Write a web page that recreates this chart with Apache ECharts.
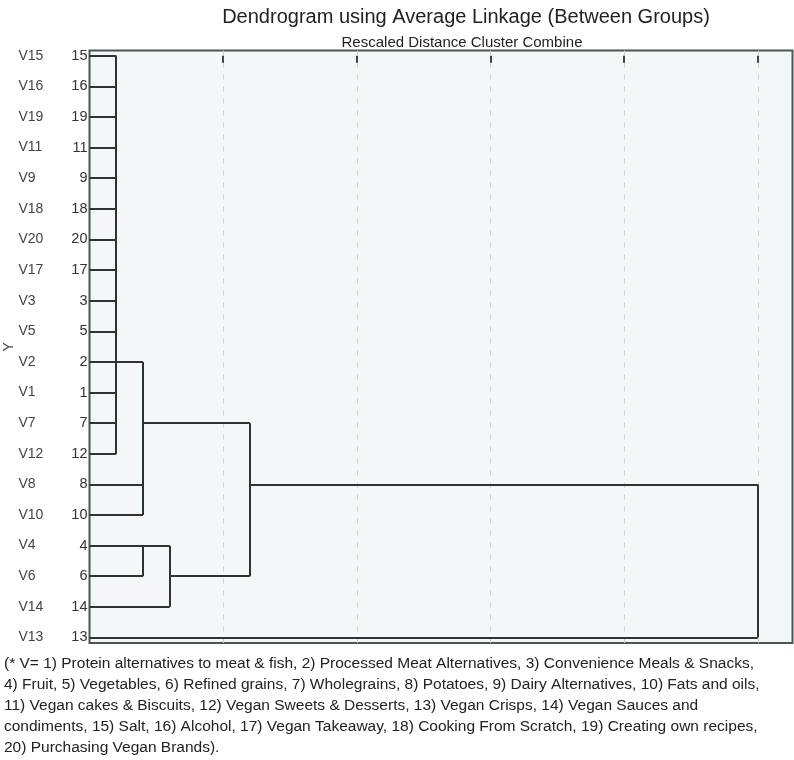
<!DOCTYPE html>
<html>
<head>
<meta charset="utf-8">
<script src="https://cdn.jsdelivr.net/npm/echarts@6/dist/echarts.min.js"></script>
<style>
  html, body { margin: 0; padding: 0; background: #ffffff; }
  #chart { width: 794px; height: 760px; }
</style>
</head>
<body>
<div id="chart"></div>
<script>
// ---- data ----
// leaf order from top to bottom
const leafLabels = ['V15','V16','V19','V11','V9','V18','V20','V17','V3','V5','V2','V1','V7','V12','V8','V10','V4','V6','V14','V13'];
const leafNumbers = ['15','16','19','11','9','18','20','17','3','5','2','1','7','12','8','10','4','6','14','13'];
// horizontal segments: [row, fromDistance, toDistance]
const horizontalSegments = [
  [0,0,1],[1,0,1],[2,0,1],[3,0,1],[4,0,1],[5,0,1],[6,0,1],[7,0,1],[8,0,1],[9,0,1],
  [10,0,2],[11,0,1],[12,0,1],[13,0,1],[14,0,2],[15,0,2],
  [12,2,6],
  [16,0,3],[17,0,2],[18,0,3],[17,3,6],
  [14,6,25],[19,0,25]
];
// vertical segments: [distance, fromRow, toRow]
const verticalSegments = [
  [1,0,13],[2,10,15],[6,12,17],[2,16,17],[3,16,18],[25,14,19]
];
const distanceTicks = [5,10,15,20,25];

const footnoteLines = [
  '(* V= 1) Protein alternatives to meat & fish, 2) Processed Meat Alternatives, 3) Convenience Meals & Snacks,',
  '4) Fruit, 5) Vegetables, 6) Refined grains, 7) Wholegrains, 8) Potatoes, 9) Dairy Alternatives, 10) Fats and oils,',
  '11) Vegan cakes & Biscuits, 12) Vegan Sweets & Desserts, 13) Vegan Crisps, 14) Vegan Sauces and',
  'condiments, 15) Salt, 16) Alcohol, 17) Vegan Takeaway, 18) Cooking From Scratch, 19) Creating own recipes,',
  '20) Purchasing Vegan Brands).'
];

const FONT = "'Liberation Sans', Arial, sans-serif";

const segData = [];
horizontalSegments.forEach(s => segData.push({ coords: [[s[1], s[0]], [s[2], s[0]]] }));
verticalSegments.forEach(s => segData.push({ coords: [[s[0], s[1]], [s[0], s[2]]] }));

const chart = echarts.init(document.getElementById('chart'), null, { renderer: 'canvas' });
chart.setOption({
  animation: false,
  backgroundColor: '#ffffff',
  textStyle: { fontFamily: FONT },
  title: [
    { text: 'Dendrogram using Average Linkage (Between Groups)', left: 461, top: 2, textAlign: 'center',
      textStyle: { fontFamily: FONT, fontSize: 20, fontWeight: 'normal', color: '#222' } },
    { text: 'Rescaled Distance Cluster Combine', left: 457, top: 30, textAlign: 'center',
      textStyle: { fontFamily: FONT, fontSize: 15, fontWeight: 'normal', color: '#222' } }
  ],
  grid: {
    left: 89.5, right: 1.5, top: 50.5, bottom: 117,
    outerBoundsMode: 'none', containLabel: false,
    show: true, backgroundColor: '#f4f6f7', borderColor: '#4a5656', borderWidth: 2
  },
  xAxis: {
    type: 'value', position: 'top', min: 0, max: 26.3, interval: 5,
    axisLine: { show: false },
    axisLabel: { show: false },
    axisTick: { show: true, inside: true, length: 7, customValues: distanceTicks, lineStyle: { color: '#3a4545', width: 2 } },
    splitLine: { show: true, lineStyle: { color: '#c9d1d1', type: [5, 7], width: 1 } }
  },
  yAxis: {
    type: 'value', inverse: true, min: -0.17, max: 19.18,
    name: 'Y', nameLocation: 'middle', nameGap: 73, nameRotate: 90, nameMoveOverlap: false,
    nameTextStyle: { fontFamily: FONT, fontSize: 14, color: '#444' },
    axisLine: { show: false },
    axisTick: { show: false },
    splitLine: { show: false },
    axisLabel: {
      show: true, margin: 2,
      customValues: leafLabels.map((_, i) => i),
      formatter: v => { const i = Math.round(v); return '{v|' + leafLabels[i] + '}{n|' + leafNumbers[i] + '}'; },
      rich: {
        v: { width: 45, align: 'left', fontSize: 14, color: '#444', fontFamily: FONT },
        n: { width: 24, align: 'right', fontSize: 14.5, color: '#333', fontFamily: FONT }
      }
    }
  },
  series: [{
    type: 'lines',
    coordinateSystem: 'cartesian2d',
    polyline: false,
    silent: true,
    lineStyle: { color: '#2b3434', width: 2, opacity: 1 },
    data: segData,
    z: 5
  }],
  graphic: [{
    type: 'text', left: 4, top: 653,
    style: { text: footnoteLines.join('\n'), font: '15.5px ' + FONT, fill: '#222', lineHeight: 21 }
  }]
});
</script>
</body>
</html>
